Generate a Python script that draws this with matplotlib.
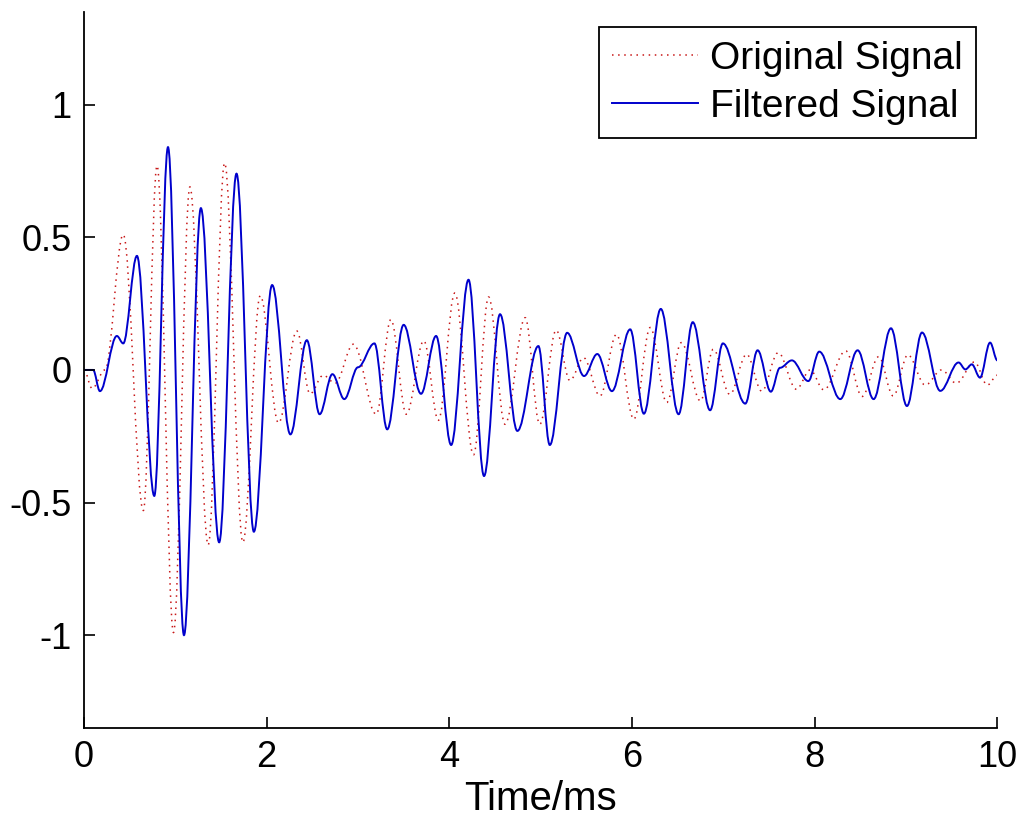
# -*- coding: utf-8 -*-
import numpy as np
import matplotlib
matplotlib.use('Agg')
import matplotlib.pyplot as plt
from matplotlib.path import Path
from matplotlib.patches import PathPatch
from matplotlib.lines import Line2D

# filtered signal (blue): time in ms, amplitude
t_filt = [0.0, 0.1, 0.175, 0.36, 0.43, 0.58, 0.77, 0.92, 1.095, 1.28, 1.48, 1.67, 1.86,
          2.06, 2.26, 2.44, 2.58, 2.72, 2.85, 3.00, 3.18, 3.32, 3.50, 3.69, 3.855,
          4.02, 4.21, 4.38, 4.555, 4.745, 4.975, 5.10, 5.29, 5.475, 5.62, 5.78, 5.98,
          6.13, 6.315, 6.51, 6.665, 6.855, 6.995, 7.24, 7.375, 7.52, 7.62, 7.75, 7.93,
          8.05, 8.28, 8.47, 8.645, 8.835, 9.01, 9.175, 9.375, 9.575, 9.65, 9.72, 9.81,
          9.92, 10.0]
v_filt = [0.0, 0.0, -0.08, 0.128, 0.10, 0.43, -0.475, 0.84, -1.0, 0.61, -0.65, 0.74, -0.61,
          0.32, -0.243, 0.112, -0.167, -0.016, -0.11, 0.01, 0.10, -0.224, 0.17, -0.09, 0.128,
          -0.283, 0.34, -0.40, 0.21, -0.23, 0.09, -0.283, 0.14, -0.023, 0.06, -0.08, 0.153,
          -0.165, 0.23, -0.167, 0.18, -0.152, 0.10, -0.127, 0.074, -0.082, 0.008, 0.036, -0.042,
          0.069, -0.11, 0.074, -0.11, 0.157, -0.136, 0.141, -0.079, 0.028, 0.002, 0.021, -0.029,
          0.103, 0.036]

# original signal (red dotted)
t_orig = [0.0, 0.09, 0.23, 0.43, 0.65, 0.80, 0.98, 1.16, 1.36, 1.54, 1.74, 1.93, 2.13,
          2.33, 2.475, 2.62, 2.75, 2.95, 3.2, 3.36, 3.53, 3.72, 3.88, 4.06, 4.265, 4.43,
          4.61, 4.83, 4.99, 5.17, 5.32, 5.47, 5.65, 5.83, 6.02, 6.2, 6.38, 6.54, 6.75,
          6.89, 7.07, 7.255, 7.42, 7.6, 7.8, 7.95, 8.1, 8.34, 8.52, 8.7, 8.86, 9.02, 9.21,
          9.39, 9.55, 9.75, 9.89, 10.0]
v_orig = [0.0, -0.07, 0.0, 0.51, -0.53, 0.77, -0.99, 0.69, -0.66, 0.78, -0.65, 0.28, -0.2,
          0.147, -0.09, -0.02, -0.05, 0.097, -0.167, 0.19, -0.167, 0.11, -0.19, 0.29, -0.32, 0.275,
          -0.205, 0.197, -0.205, 0.15, -0.04, 0.046, -0.098, 0.134, -0.186, 0.16, -0.123, 0.103, -0.117,
          0.078, -0.092, 0.059, -0.08, 0.065, -0.073, 0.0, -0.075, 0.072, -0.1, 0.05, -0.098, 0.057, -0.057,
          0.0, -0.05, 0.03, -0.057, -0.02]

x_ticks = [0, 2, 4, 6, 8, 10]
y_ticks = [-1, -0.5, 0, 0.5, 1]
y_ticklabels = ['-1', '-0.5', '0', '0.5', '1']


def smooth_path(t, v, k=0.36):
    # cubic bezier segments between the read points, flat at each point
    verts = [(t[0], v[0])]
    codes = [Path.MOVETO]
    for i in range(1, len(t)):
        dt = t[i] - t[i - 1]
        verts += [(t[i - 1] + k * dt, v[i - 1]), (t[i] - k * dt, v[i]), (t[i], v[i])]
        codes += [Path.CURVE4] * 3
    return Path(verts, codes)


plt.rcParams['font.family'] = ['Liberation Sans', 'DejaVu Sans']
plt.rcParams['axes.unicode_minus'] = False

fig = plt.figure(figsize=(10.24, 8.25), dpi=100)
ax = fig.add_axes([0.082, 0.1176, 0.892, 0.868])

red_style = dict(color='#c81818', lw=1.1, linestyle=(0, (1, 3)))
blue_style = dict(color='#0000cc', lw=1.4, linestyle='-')

ax.add_patch(PathPatch(smooth_path(t_orig, v_orig), fill=False, edgecolor=red_style['color'],
                       lw=red_style['lw'], linestyle=red_style['linestyle']))
ax.add_patch(PathPatch(smooth_path(t_filt, v_filt), fill=False, edgecolor=blue_style['color'],
                       lw=blue_style['lw'], linestyle=blue_style['linestyle']))

ax.set_xlim(0, 10)
ax.set_ylim(-1.35, 1.35)
ax.set_xticks(x_ticks)
ax.set_yticks(y_ticks)
ax.set_yticklabels(y_ticklabels)
ax.tick_params(direction='in', length=8, width=1.2, labelsize=26, pad=9, colors='black')
ax.spines['top'].set_visible(False)
ax.spines['right'].set_visible(False)
for s in ['left', 'bottom']:
    ax.spines[s].set_linewidth(1.3)

ax.set_xlabel('Time/ms', fontsize=29, labelpad=3)

handles = [Line2D([], [], **red_style), Line2D([], [], **blue_style)]
leg = ax.legend(handles, ['Original Signal', 'Filtered Signal'], loc='upper right',
                bbox_to_anchor=(0.953, 0.967), bbox_transform=fig.transFigure,
                borderaxespad=0, fontsize=28, fancybox=False, framealpha=1, edgecolor='black',
                handlelength=2.2, handletextpad=0.3, labelspacing=0.3, borderpad=0.35)
leg.get_frame().set_linewidth(1.3)

fig.savefig('out.png', dpi=100)
